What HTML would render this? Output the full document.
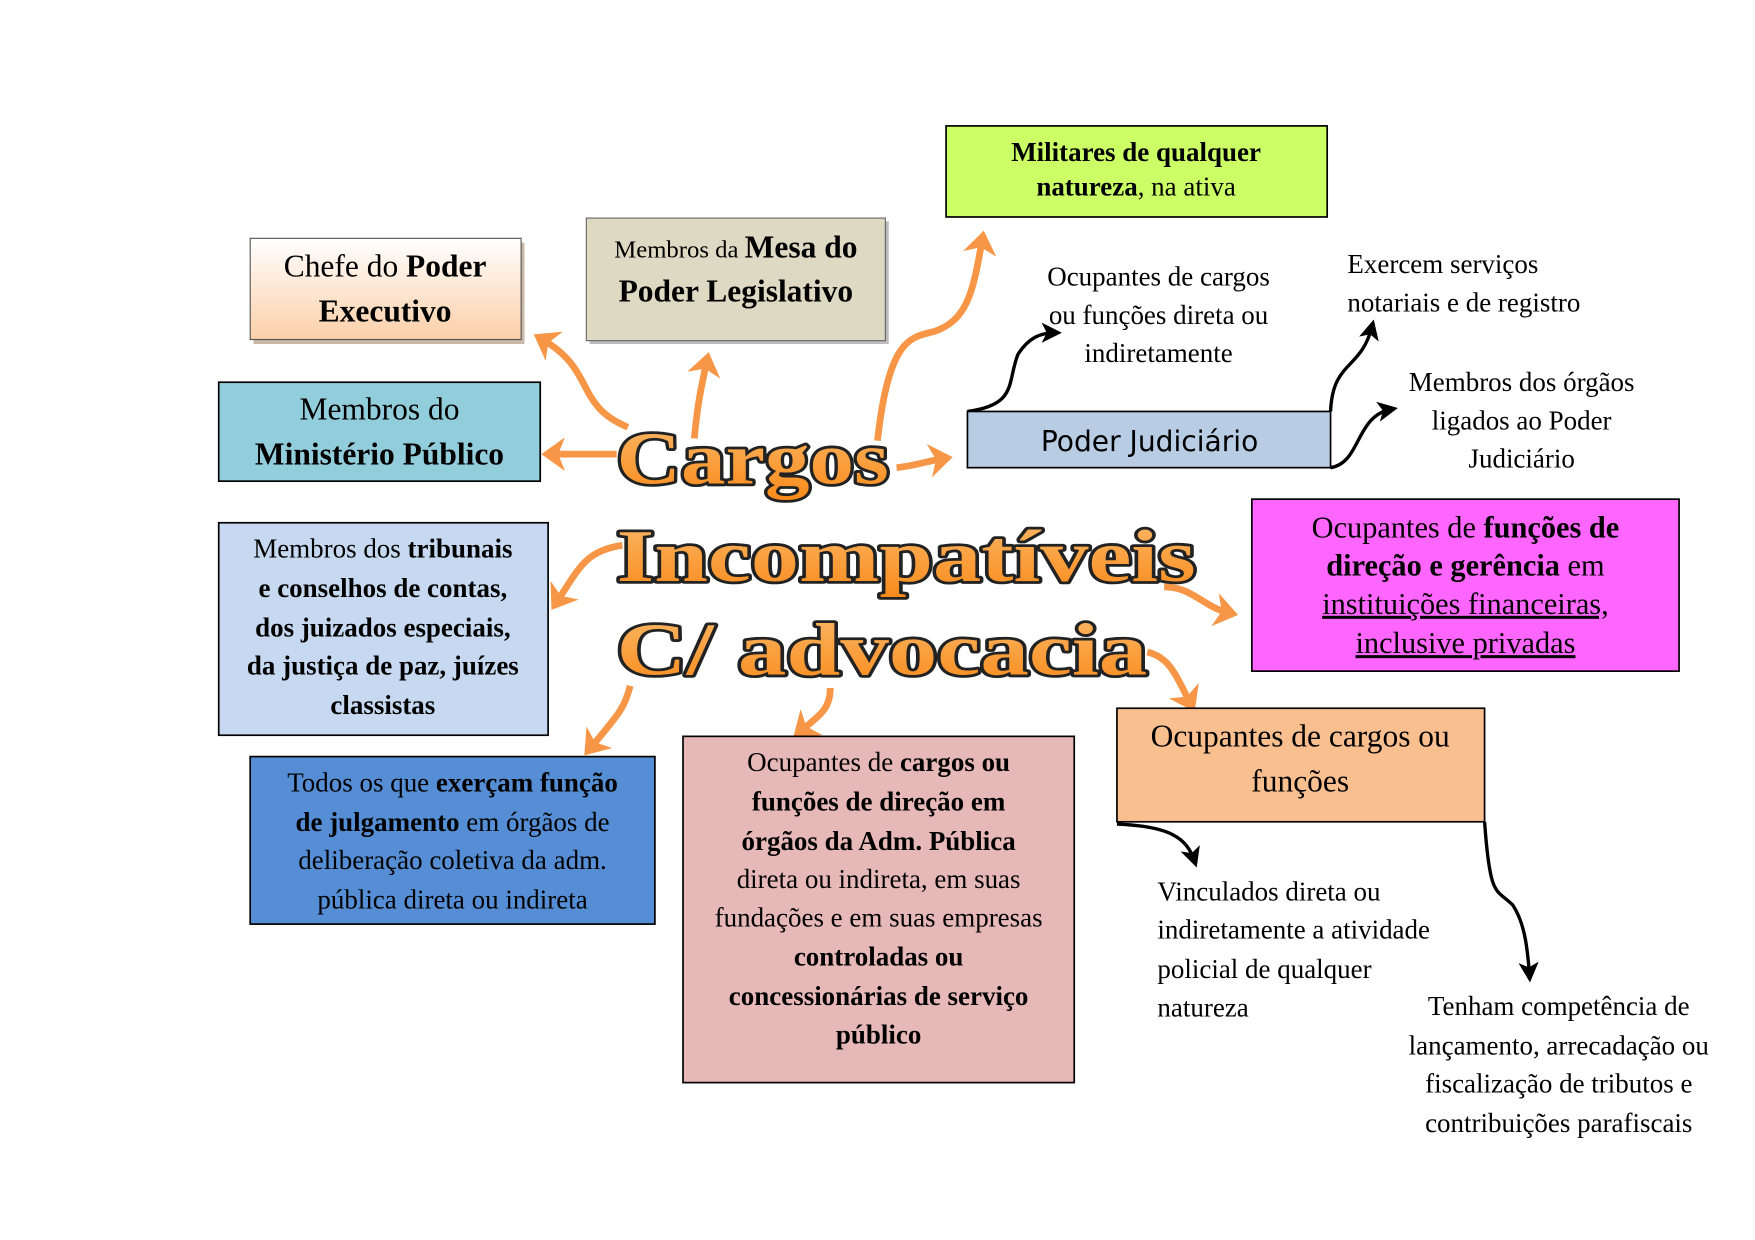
<!DOCTYPE html>
<html><head><meta charset="utf-8"><style>
html,body{margin:0;padding:0;background:#fff;}
svg{display:block;}
text{font-family:"Liberation Serif","Times New Roman",serif;}
</style></head><body>
<svg width="1755" height="1240" viewBox="0 0 1560 1103" xmlns="http://www.w3.org/2000/svg">
<defs>
<linearGradient id="gch" x1="0" y1="0" x2="0" y2="1"><stop offset="0" stop-color="#fff"/><stop offset="1" stop-color="#fbcfa8"/></linearGradient>
<linearGradient id="gt" x1="0" y1="0" x2="0" y2="1"><stop offset="0" stop-color="#fbb868"/><stop offset="1" stop-color="#f98a1a"/></linearGradient>
<marker id="ao" markerWidth="5" markerHeight="5" refX="2" refY="2.5" orient="auto" markerUnits="strokeWidth"><path d="M0,0 L3.5,2.5 L0,5 L1,2.5z" fill="#f79646"/></marker>
<marker id="ab" markerWidth="6" markerHeight="6" refX="4" refY="3" orient="auto" markerUnits="strokeWidth"><path d="M0,0 L6,3 L0,6 L1.5,3z" fill="#000"/></marker>
</defs>
<g fill="none" stroke="#f79646" stroke-width="6" marker-end="url(#ao)">
<path d="M558,380 C510,360 530,330 482,302"/>
<path d="M617,390 C620,360 622,350 628,322"/>
<path d="M548,404 L490,404"/>
<path d="M780,392 C790,300 810,300 830,295 C860,285 865,260 873,214"/>
<path d="M797,416 C815,414 825,410 838,408"/>
<path d="M553,485 C520,490 515,505 495,535"/>
<path d="M1035,522 C1060,522 1070,540 1092,545"/>
<path d="M560,610 C555,630 550,635 525,665"/>
<path d="M738,612 C738,630 730,635 712,650"/>
<path d="M1020,580 C1040,585 1045,600 1058,625"/>
</g>
<g fill="none" stroke="#000" stroke-width="3" marker-end="url(#ab)">
<path d="M860,366 C905,360 895,340 905,315 C915,300 925,296 938,296"/>
<path d="M1183,366 C1185,320 1210,330 1220,290"/>
<path d="M1183,416 C1210,412 1205,370 1237,364"/>
<path d="M993,733 C1040,735 1055,745 1062,766"/>
<path d="M1320,731 C1325,800 1330,790 1345,805 C1355,820 1358,840 1360,868"/>
</g>
<rect x="841" y="112" width="339" height="81" fill="#ccff66" stroke="#000" stroke-width="1.5"/>
<text x="1010" y="143" text-anchor="middle" font-size="24" font-weight="bold">Militares de qualquer</text>
<text x="1010" y="174" text-anchor="middle" font-size="24"><tspan font-weight="bold">natureza</tspan>, na ativa</text>
<rect x="225" y="216" width="241" height="90" fill="#c9b9a6"/>
<rect x="222" y="212" width="241" height="90" fill="url(#gch)" stroke="#555" stroke-width="1"/>
<text x="342" y="246" text-anchor="middle" font-size="28">Chefe do <tspan font-weight="bold">Poder</tspan></text>
<text x="342" y="286" text-anchor="middle" font-size="28" font-weight="bold">Executivo</text>
<rect x="524" y="197" width="266" height="109" fill="#bbb"/>
<rect x="521" y="194" width="266" height="109" fill="#ddd9c3" stroke="#666" stroke-width="1"/>
<text x="654" y="229" text-anchor="middle" font-size="22">Membros da <tspan font-size="28" font-weight="bold">Mesa do</tspan></text>
<text x="654" y="268" text-anchor="middle" font-size="28" font-weight="bold">Poder Legislativo</text>
<rect x="194" y="340" width="286" height="88" fill="#92cddc" stroke="#000" stroke-width="1.5"/>
<text x="337" y="373" text-anchor="middle" font-size="28">Membros do</text>
<text x="337" y="413" text-anchor="middle" font-size="28" font-weight="bold">Ministério Público</text>
<text x="1030" y="254" text-anchor="middle" font-size="24">Ocupantes de cargos</text>
<text x="1030" y="288" text-anchor="middle" font-size="24">ou funções direta ou</text>
<text x="1030" y="322" text-anchor="middle" font-size="24">indiretamente</text>
<text x="1198" y="243" font-size="24">Exercem serviços</text>
<text x="1198" y="277" font-size="24">notariais e de registro</text>
<text x="1353" y="348" text-anchor="middle" font-size="24">Membros dos órgãos</text>
<text x="1353" y="382" text-anchor="middle" font-size="24">ligados ao Poder</text>
<text x="1353" y="416" text-anchor="middle" font-size="24">Judiciário</text>
<rect x="860" y="366" width="323" height="50" fill="#b8cce4" stroke="#000" stroke-width="1.5"/>
<text x="1022" y="401" text-anchor="middle" font-size="25" style="font-family:'DejaVu Sans','Liberation Sans',sans-serif">Poder Judiciário</text>
<rect x="194" y="465" width="293" height="189" fill="#c6d9f0" stroke="#000" stroke-width="1.5"/>
<g font-size="24" text-anchor="middle">
<text x="340" y="496">Membros dos <tspan font-weight="bold">tribunais</tspan></text>
<text x="340" y="531" font-weight="bold">e conselhos de contas,</text>
<text x="340" y="566" font-weight="bold">dos juizados especiais,</text>
<text x="340" y="600" font-weight="bold">da justiça de paz, juízes</text>
<text x="340" y="635" font-weight="bold">classistas</text>
</g>
<rect x="1113" y="444" width="380" height="153" fill="#ff66ff" stroke="#000" stroke-width="1.5"/>
<g font-size="27" text-anchor="middle">
<text x="1303" y="478">Ocupantes de <tspan font-weight="bold">funções de</tspan></text>
<text x="1303" y="512"><tspan font-weight="bold">direção e gerência</tspan> em</text>
<text x="1303" y="546" text-decoration="underline">instituições financeiras,</text>
<text x="1303" y="581" text-decoration="underline">inclusive privadas</text>
</g>
<rect x="222" y="673" width="360" height="149" fill="#558ed5" stroke="#000" stroke-width="1.5"/>
<g font-size="24" text-anchor="middle">
<text x="402" y="704">Todos os que <tspan font-weight="bold">exerçam função</tspan></text>
<text x="402" y="739"><tspan font-weight="bold">de julgamento</tspan> em órgãos de</text>
<text x="402" y="773">deliberação coletiva da adm.</text>
<text x="402" y="808">pública direta ou indireta</text>
</g>
<rect x="607" y="655" width="348" height="308" fill="#e6b9b8" stroke="#000" stroke-width="1.5"/>
<g font-size="24" text-anchor="middle">
<text x="781" y="686">Ocupantes de <tspan font-weight="bold">cargos ou</tspan></text>
<text x="781" y="721" font-weight="bold">funções de direção em</text>
<text x="781" y="756" font-weight="bold">órgãos da Adm. Pública</text>
<text x="781" y="790">direta ou indireta, em suas</text>
<text x="781" y="824">fundações e em suas empresas</text>
<text x="781" y="859" font-weight="bold">controladas ou</text>
<text x="781" y="894" font-weight="bold">concessionárias de serviço</text>
<text x="781" y="928" font-weight="bold">público</text>
</g>
<rect x="993" y="630" width="327" height="101" fill="#fabf8f" stroke="#000" stroke-width="1.5"/>
<text x="1156" y="664" text-anchor="middle" font-size="28">Ocupantes de cargos ou</text>
<text x="1156" y="704" text-anchor="middle" font-size="28">funções</text>
<g font-size="24">
<text x="1029" y="801">Vinculados direta ou</text>
<text x="1029" y="835">indiretamente a atividade</text>
<text x="1029" y="870">policial de qualquer</text>
<text x="1029" y="904">natureza</text>
</g>
<g font-size="24" text-anchor="middle">
<text x="1386" y="903">Tenham competência de</text>
<text x="1386" y="938">lançamento, arrecadação ou</text>
<text x="1386" y="972">fiscalização de tributos e</text>
<text x="1386" y="1007">contribuições parafiscais</text>
</g>
<g font-weight="bold" fill="url(#gt)" stroke="#222" stroke-width="5" stroke-linejoin="round" paint-order="stroke" style="font-family:'DejaVu Serif','Liberation Serif',serif">
<text x="548" y="430" font-size="66" textLength="242" lengthAdjust="spacingAndGlyphs">Cargos</text>
<text x="548" y="517" font-size="66" textLength="515" lengthAdjust="spacingAndGlyphs">Incompatíveis</text>
<text x="548" y="600" font-size="66" textLength="472" lengthAdjust="spacingAndGlyphs">C/ advocacia</text>
</g>
</svg>
</body></html>
